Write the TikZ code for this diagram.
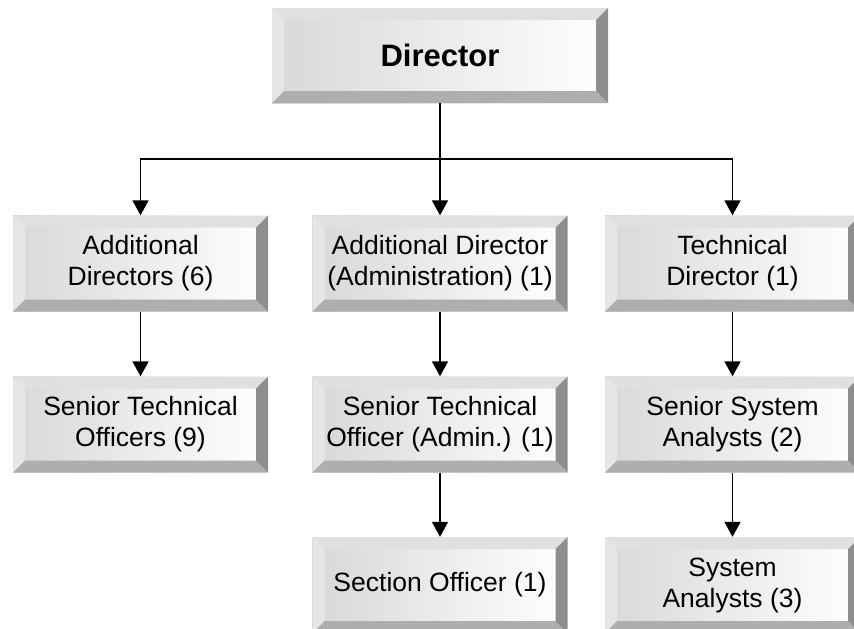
\documentclass[tikz,border=0pt]{standalone}
\usepackage{fontspec}
\setmainfont{Liberation Sans}
\usetikzlibrary{arrows.meta}
\definecolor{bevtop}{HTML}{E0E0E0}
\definecolor{bevleft}{HTML}{E6E6E6}
\definecolor{bevright}{HTML}{8E8E8E}
\definecolor{bevbottom}{HTML}{AEAEAE}
\definecolor{facel}{HTML}{D8D8D8}
\tikzset{
  bevbox/.style={rectangle, inner sep=0pt, minimum width=255pt, minimum height=96pt,
    align=center, font=\fontsize{26.5}{31}\selectfont,
    left color=facel, right color=white,
    path picture={
      \path (path picture bounding box.north west) coordinate (bnw)
            (path picture bounding box.north east) coordinate (bne)
            (path picture bounding box.south west) coordinate (bsw)
            (path picture bounding box.south east) coordinate (bse);
      \fill[bevtop] (bnw) -- (bne) -- ([xshift=-12pt,yshift=-12pt]bne) -- ([xshift=12pt,yshift=-12pt]bnw) -- cycle;
      \fill[bevleft] (bnw) -- (bsw) -- ([xshift=12pt,yshift=12pt]bsw) -- ([xshift=12pt,yshift=-12pt]bnw) -- cycle;
      \fill[bevbottom] (bsw) -- (bse) -- ([xshift=-12pt,yshift=12pt]bse) -- ([xshift=12pt,yshift=12pt]bsw) -- cycle;
      \fill[bevright] (bne) -- (bse) -- ([xshift=-12pt,yshift=12pt]bse) -- ([xshift=-12pt,yshift=-12pt]bne) -- cycle;
    }},
  topbox/.style={bevbox, minimum width=336pt, minimum height=95pt, font=\fontsize{31}{36}\selectfont\bfseries},
  conn/.style={line width=1.7pt, black},
  arr/.style={conn, -{Triangle[width=16pt,length=15pt]}}
}
\begin{document}
\begin{tikzpicture}[x=1pt, y=-1pt]
\useasboundingbox (0,0) rectangle (854,629);
\fill[white] (0,0) rectangle (854,629);
\node[topbox] (dir) at (440,55.5) {Director};
\node[bevbox] (ad1) at (140.5,263.5) {Additional\\Directors (6)};
\node[bevbox] (ad2) at (440,263.5) {Additional Director\\(Administration) (1)};
\node[bevbox] (ad3) at (732.5,263.5) {Technical\\Director (1)};
\node[bevbox] (st1) at (140.5,424.5) {Senior Technical\\Officers (9)};
\node[bevbox] (st2) at (440,424.5) {Senior Technical\\Officer (Admin.) (1)};
\node[bevbox] (st3) at (732.5,424.5) {Senior System\\Analysts (2)};
\node[bevbox] (so) at (440,585) {Section Officer (1)};
\node[bevbox] (sa) at (732.5,585) {System\\Analysts (3)};
\coordinate (bus) at (440,159);
\draw[conn] (dir.south) -- (bus);
\draw[arr] (bus) -| (ad1.north);
\draw[arr] (bus) -| (ad3.north);
\draw[arr] (bus) -- (ad2.north);
\draw[arr] (ad1) -- (st1);
\draw[arr] (ad2) -- (st2);
\draw[arr] (ad3) -- (st3);
\draw[arr] (st2) -- (so);
\draw[arr] (st3) -- (sa);
\end{tikzpicture}
\end{document}
